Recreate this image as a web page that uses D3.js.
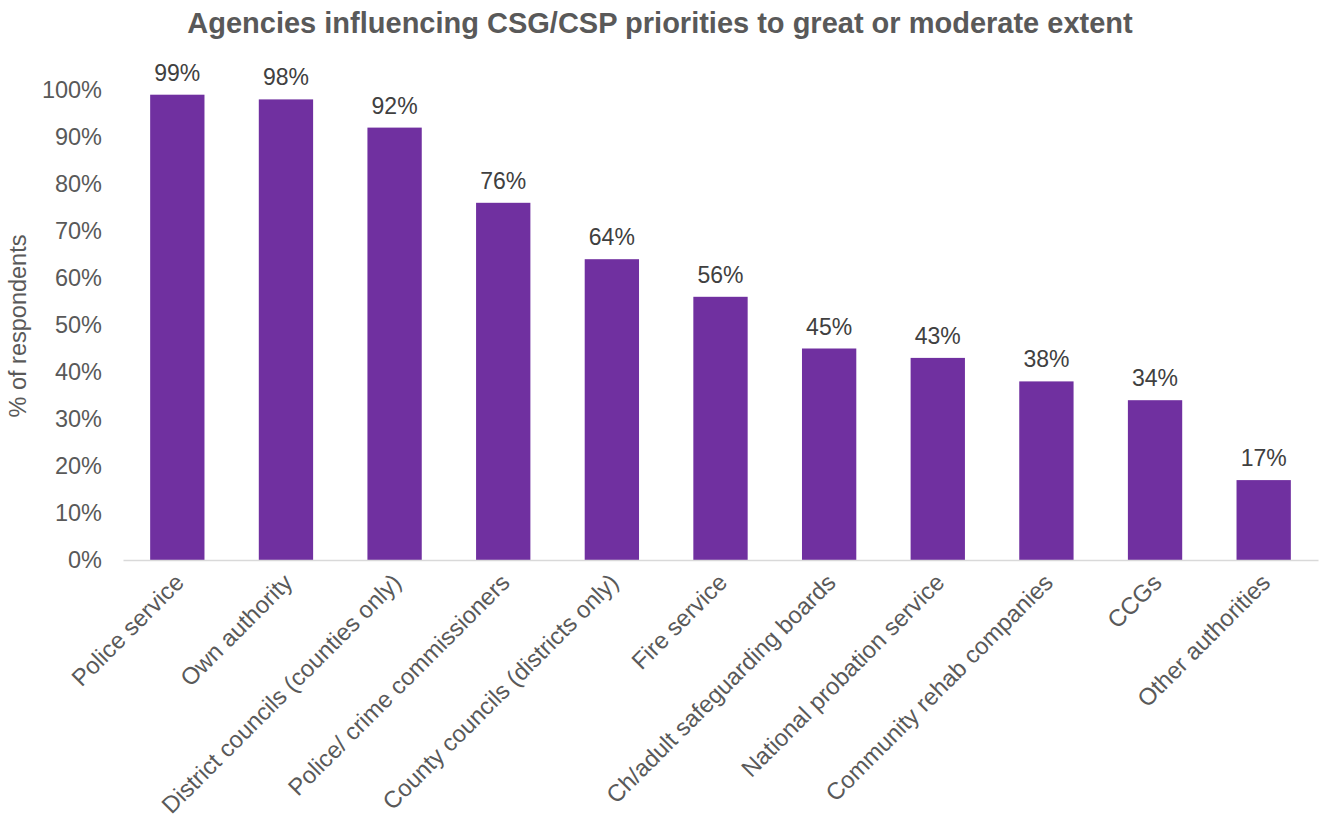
<!DOCTYPE html>
<html>
<head>
<meta charset="utf-8">
<script src="https://cdn.jsdelivr.net/npm/d3@7"></script>
<style>
  body { margin: 0; background: #fff; }
  svg { font-family: "Liberation Sans", Arial, sans-serif; }
</style>
</head>
<body>
<div id="chart"></div>
<script>
const categories = [
	"Police service", "Own authority", "District councils (counties only)",
	"Police/ crime commissioners", "County councils (districts only)", "Fire service",
	"Ch/adult safeguarding boards", "National probation service",
	"Community rehab companies", "CCGs", "Other authorities"
];
const values = [99, 98, 92, 76, 64, 56, 45, 43, 38, 34, 17];
const yTicks = [0, 10, 20, 30, 40, 50, 60, 70, 80, 90, 100];

const width = 1319, height = 822;
const margin = {top: 90, right: 1, bottom: 262, left: 123};

const svg = d3.select("#chart").append("svg")
	.attr("width", width)
	.attr("height", height);

//title
svg.append("text")
	.attr("x", 660)
	.attr("y", 33)
	.attr("text-anchor", "middle")
	.attr("font-size", 29)
	.attr("font-weight", "bold")
	.attr("fill", "#595959")
	.text("Agencies influencing CSG/CSP priorities to great or moderate extent");

//scales
const xScale = d3.scaleBand()
	.domain(categories)
	.range([margin.left, width - margin.right])
	.paddingInner(0.5)
	.paddingOuter(0.25);

const yScale = d3.scaleLinear()
	.domain([0, 100])
	.range([height - margin.bottom, margin.top]);

//y axis
const yAxis = svg.append("g")
	.attr("transform", `translate(${margin.left},0)`)
	.call(d3.axisLeft(yScale).tickValues(yTicks).tickFormat(d => d + "%").tickSize(0).tickPadding(21));
yAxis.select(".domain").remove();
yAxis.selectAll("text")
	.attr("font-size", 23.5)
	.attr("font-family", "Liberation Sans, Arial, sans-serif")
	.attr("fill", "#595959");

//axis title
svg.append("text")
	.attr("transform", `translate(26,${yScale(50) + 1}) rotate(-90)`)
	.attr("text-anchor", "middle")
	.attr("font-size", 23.5)
	.attr("fill", "#595959")
	.text("% of respondents");

//bars
svg.selectAll(".bar")
	.data(values)
	.enter()
	.append("rect")
	.attr("class", "bar")
	.attr("fill", "#7030a0")
	.attr("x", (d, i) => xScale(categories[i]))
	.attr("y", d => yScale(d))
	.attr("width", xScale.bandwidth())
	.attr("height", d => yScale(0) - yScale(d));

//value labels
svg.selectAll(".val")
	.data(values)
	.enter()
	.append("text")
	.attr("class", "val")
	.attr("x", (d, i) => xScale(categories[i]) + xScale.bandwidth() / 2)
	.attr("y", d => yScale(d) - 14)
	.attr("text-anchor", "middle")
	.attr("font-size", 23)
	.attr("fill", "#404040")
	.text(d => d + "%");

//x axis
const xAxis = svg.append("g")
	.attr("transform", `translate(0,${yScale(0)})`)
	.call(d3.axisBottom(xScale).tickSize(0).tickPadding(0));
xAxis.select(".domain")
	.attr("stroke", "#d9d9d9")
	.attr("stroke-width", 1.5);
xAxis.selectAll("text")
	.attr("font-size", 23.8)
	.attr("font-family", "Liberation Sans, Arial, sans-serif")
	.attr("fill", "#595959")
	.attr("text-anchor", "end")
	.attr("dy", null)
	.attr("y", 0)
	.attr("transform", "translate(8,24) rotate(-45)");
</script>
</body>
</html>
